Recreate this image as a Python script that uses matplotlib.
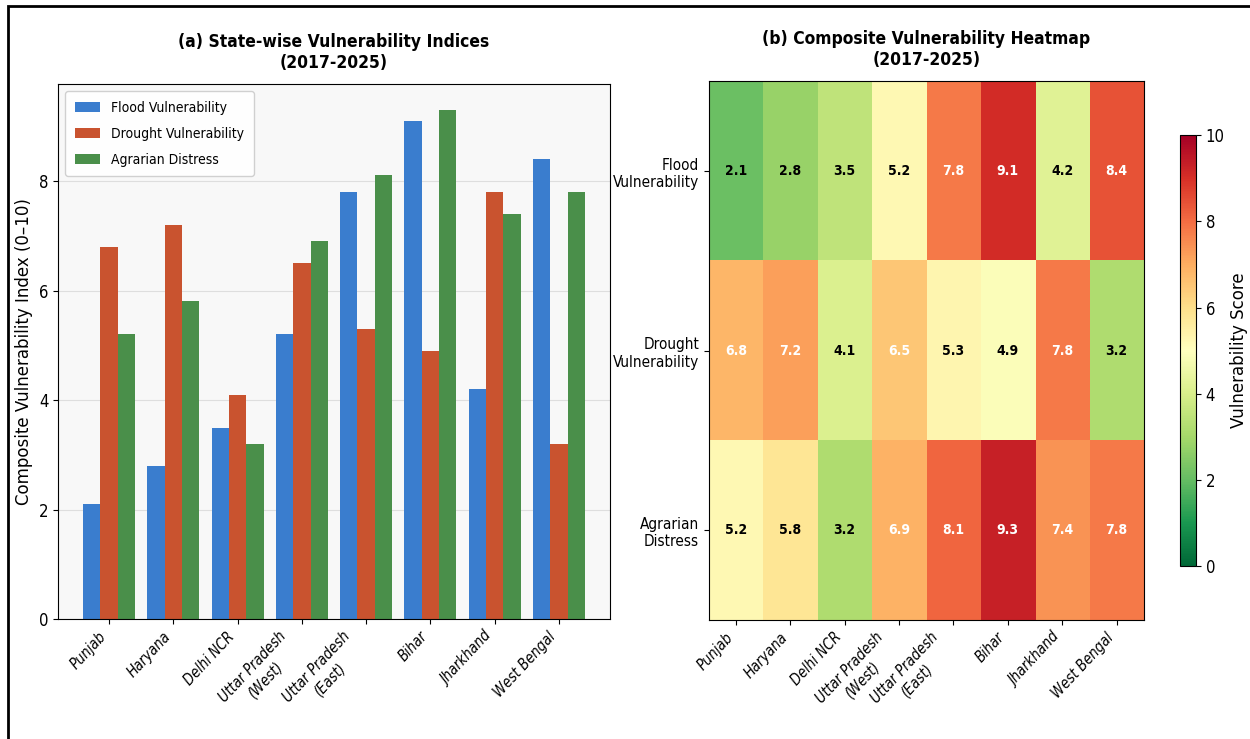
import numpy as np
import matplotlib
matplotlib.use("Agg")
import matplotlib.pyplot as plt
from matplotlib.patches import Rectangle

plt.rcParams['font.family'] = ['DejaVu Sans']
plt.rcParams['font.stretch'] = 'condensed'

# states and index values
states = ["Punjab", "Haryana", "Delhi NCR", "Uttar Pradesh\n(West)", "Uttar Pradesh\n(East)",
          "Bihar", "Jharkhand", "West Bengal"]
flood = [2.1, 2.8, 3.5, 5.2, 7.8, 9.1, 4.2, 8.4]
drought = [6.8, 7.2, 4.1, 6.5, 5.3, 4.9, 7.8, 3.2]
agrarian = [5.2, 5.8, 3.2, 6.9, 8.1, 9.3, 7.4, 7.8]
index_names = ["Flood Vulnerability", "Drought Vulnerability", "Agrarian Distress"]
row_labels = ["Flood\nVulnerability", "Drought\nVulnerability", "Agrarian\nDistress"]

fig = plt.figure(figsize=(12.5, 7.39), dpi=100)
ax1 = fig.add_axes([0.0464, 0.162, 0.4416, 0.724])
ax2 = fig.add_axes([0.567, 0.161, 0.348, 0.729])
cax = fig.add_axes([0.944, 0.234, 0.0128, 0.583])

# grouped bars
x = np.arange(len(states))
w = 0.27
ax1.set_facecolor('#f8f8f8')
ax1.bar(x - w, flood, w, color='#3a7dce', label=index_names[0])
ax1.bar(x, drought, w, color='#c9532f', label=index_names[1])
ax1.bar(x + w, agrarian, w, color='#4a8f4a', label=index_names[2])
ax1.set_xticks(x)
ax1.set_xticklabels(states, rotation=47, ha='right', style='italic', fontsize=10.5,
                    multialignment='center')
ax1.set_ylabel("Composite Vulnerability Index (0–10)", fontsize=12, fontstretch='normal')
ax1.set_yticks([0, 2, 4, 6, 8])
ax1.tick_params(axis='y', labelsize=12)
ax1.grid(axis='y', color='#d8d8d8', alpha=0.8)
ax1.set_axisbelow(True)
ax1.set_title("(a) State-wise Vulnerability Indices\n(2017-2025)", fontsize=12.5,
              fontweight='bold', pad=12)
ax1.legend(loc='upper left', fontsize=10, labelspacing=0.85, handlelength=1.8,
           handletextpad=0.8, borderpad=0.7, framealpha=0.9)

# heatmap
data = np.array([flood, drought, agrarian])
im = ax2.imshow(data, cmap='RdYlGn_r', vmin=0, vmax=10, aspect='auto')
for i in range(data.shape[0]):
    for j in range(data.shape[1]):
        v = data[i, j]
        ax2.text(j, i, f"{v:.1f}", ha='center', va='center', fontsize=10,
                 fontweight='bold', color='white' if v > 6 else 'black')
ax2.set_xticks(x)
ax2.set_xticklabels(states, rotation=47, ha='right', style='italic', fontsize=10.5,
                    multialignment='center')
ax2.set_yticks(range(3))
ax2.set_yticklabels(row_labels, fontsize=11, multialignment='right')
ax2.set_title("(b) Composite Vulnerability Heatmap\n(2017-2025)", fontsize=12.5,
              fontweight='bold', pad=12)

cb = fig.colorbar(im, cax=cax)
cb.set_label("Vulnerability Score", fontsize=12, fontstretch='normal')
cb.ax.tick_params(labelsize=12)

# outer frame
fig.add_artist(Rectangle((0.0064, -0.05), 1.1, 0.0419 + 1.0, transform=fig.transFigure,
                         fill=False, lw=2, edgecolor='black'))

fig.savefig("out.png", dpi=100)
